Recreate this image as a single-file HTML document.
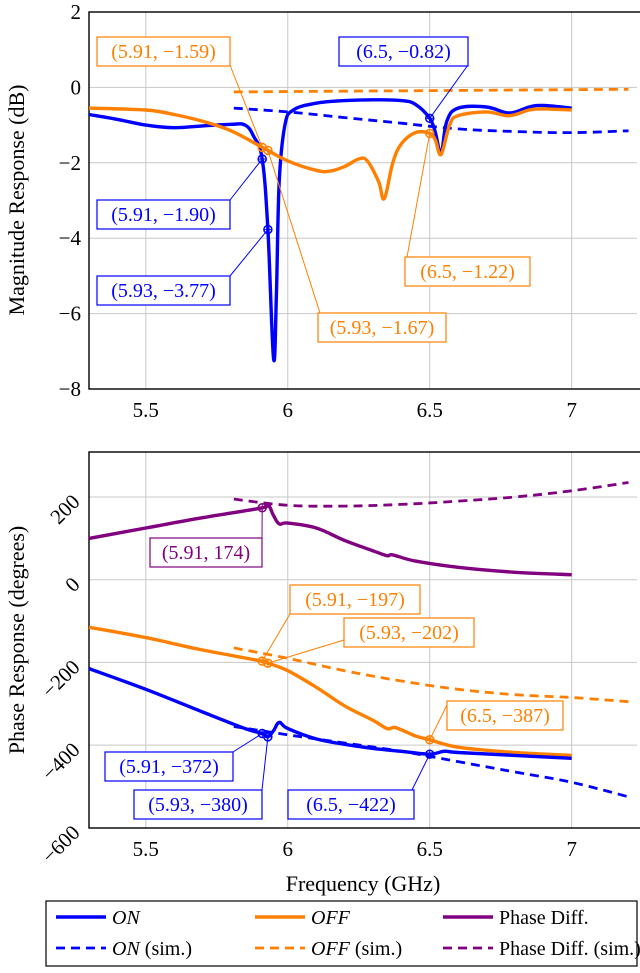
<!DOCTYPE html>
<html><head><meta charset="utf-8"><style>
html,body{margin:0;padding:0;background:#fff;}
svg{display:block;font-family:"Liberation Serif",serif;}
</style></head><body>
<svg id="c" width="640" height="973" viewBox="0 0 640 973"></svg>
<script>
const freqOn=[5.3,5.4,5.5,5.6,5.7,5.8,5.85,5.88,5.91,5.93,5.95,5.96,5.97,5.99,6.02,6.1,6.2,6.3,6.4,6.45,6.5,6.52,6.54,6.56,6.6,6.7,6.78,6.85,6.9,7.0];
const magOn=[-0.72,-0.85,-1.0,-1.07,-1.02,-0.98,-1.0,-1.3,-1.90,-3.77,-7.2,-5.5,-2.5,-1.0,-0.6,-0.42,-0.35,-0.33,-0.35,-0.45,-0.82,-1.2,-1.75,-0.9,-0.55,-0.52,-0.68,-0.52,-0.48,-0.55];
const freqOff=[5.3,5.5,5.6,5.7,5.8,5.91,5.93,6.0,6.1,6.15,6.2,6.25,6.28,6.32,6.34,6.37,6.4,6.45,6.5,6.52,6.54,6.57,6.6,6.7,6.78,6.85,6.9,7.0];
const magOff=[-0.55,-0.6,-0.72,-0.9,-1.15,-1.59,-1.67,-1.95,-2.2,-2.22,-2.1,-1.9,-1.95,-2.5,-2.95,-2.0,-1.5,-1.2,-1.22,-1.4,-1.78,-1.0,-0.75,-0.65,-0.75,-0.6,-0.57,-0.6];
const freqSim=[5.81,6.0,6.2,6.4,6.6,6.8,7.0,7.2];
const magOnSim=[-0.55,-0.65,-0.8,-0.95,-1.1,-1.17,-1.2,-1.15];
const magOffSim=[-0.12,-0.11,-0.1,-0.09,-0.08,-0.07,-0.06,-0.05];
const freqPhOn=[5.3,5.5,5.7,5.85,5.91,5.93,5.95,5.97,6.0,6.1,6.2,6.3,6.4,6.5,6.55,6.6,6.8,7.0];
const phOn=[-215,-265,-320,-360,-372,-380,-365,-345,-360,-385,-398,-408,-415,-422,-415,-418,-425,-432];
const freqPhOff=[5.3,5.5,5.7,5.91,5.93,6.0,6.1,6.2,6.3,6.35,6.38,6.45,6.5,6.6,6.8,7.0];
const phOff=[-115,-140,-170,-197,-202,-220,-260,-305,-340,-360,-358,-378,-387,-405,-418,-425];
const freqDiff=[5.3,5.5,5.7,5.91,5.93,5.95,5.97,6.0,6.1,6.2,6.3,6.35,6.37,6.45,6.6,6.8,7.0];
const phDiff=[100,125,150,174,183,155,135,137,125,95,70,58,60,45,30,18,12];
const phOnSim=[-355,-375,-395,-415,-440,-465,-490,-525];
const phOffSim=[-165,-190,-220,-245,-265,-278,-285,-295];
const phDiffSim=[195,180,178,182,190,200,215,235];
const xTicks=[5.5,6,6.5,7];
const magTicks=[2,0,-2,-4,-6,-8];
const phTicks=[200,0,-200,-400,-600];

const svg=document.getElementById('c');const NS='http://www.w3.org/2000/svg';
function el(t,a,p){const e=document.createElementNS(NS,t);for(const k in a)e.setAttribute(k,a[k]);(p||svg).appendChild(e);return e;}
const X0=89,X1=637;
const sx=f=>X0+(f-5.3)/(7.23-5.3)*(X1-X0);
const sy1=v=>12+(2-v)/10*(389-12);
const sy2=v=>497+(200-v)/200*82.7;
const BLUE='#0000ff',ORG='#ff8000',PUR='#800080';
function smooth(pts){
  let d='M'+pts[0][0].toFixed(1)+' '+pts[0][1].toFixed(1);
  const k=0.18;
  for(let i=0;i<pts.length-1;i++){
    const p0=pts[i-1]||pts[i],p1=pts[i],p2=pts[i+1],p3=pts[i+2]||p2;
    const c1=[p1[0]+(p2[0]-p0[0])*k,p1[1]+(p2[1]-p0[1])*k];
    const c2=[p2[0]-(p3[0]-p1[0])*k,p2[1]-(p3[1]-p1[1])*k];
    d+=` C${c1[0].toFixed(1)} ${c1[1].toFixed(1)} ${c2[0].toFixed(1)} ${c2[1].toFixed(1)} ${p2[0].toFixed(1)} ${p2[1].toFixed(1)}`;
  }
  return d;
}
function series(xs,ys,sy,col,dash,name){
  const d=smooth(xs.map((x,i)=>[sx(x),sy(ys[i])]));
  const p=el('path',{d:d,fill:'none',stroke:col,'stroke-width':dash?2.8:3.4,'stroke-dasharray':dash?'9 6':'none','stroke-linejoin':'round'});
  
  
}
function axes(top,bot,ticks,sy,rot,name){
  const g=el('g',{});
  
  
  xTicks.forEach(t=>{el('line',{x1:sx(t),x2:sx(t),y1:top,y2:bot,stroke:'#c8c8c8','stroke-width':1},g);
    const tx=el('text',{x:sx(t),y:bot+28,'text-anchor':'middle','font-size':21},g);tx.textContent=t;});
  ticks.forEach(t=>{const y=sy(t);
    if(y>top+1&&y<bot-1)el('line',{x1:X0,x2:X1,y1:y,y2:y,stroke:'#c8c8c8','stroke-width':1},g);
    const s=t<0?'\u2212'+(-t):''+t;
    if(rot){const tx=el('text',{x:0,y:0,'text-anchor':'end','font-size':21,transform:`translate(${X0-8},${y+6}) rotate(-45)`},g);tx.textContent=s;}
    else{const tx=el('text',{x:X0-8,y:y+7,'text-anchor':'end','font-size':21},g);tx.textContent=s;}
  });
  el('rect',{x:X0,y:top,width:X1-X0+5,height:bot-top,fill:'none',stroke:'#000','stroke-width':1.4},g);
}
function ann(txt,col,bx,by,bw,px,py,lx,ly,name){
  const g=el('g',{});
  
  
  el('line',{x1:lx,y1:ly,x2:px,y2:py,stroke:col,'stroke-width':1},g);
  el('circle',{cx:px,cy:py,r:4,fill:'none',stroke:col,'stroke-width':1.5},g);
  el('line',{x1:px-4,x2:px+4,y1:py,y2:py,stroke:col,'stroke-width':1},g);
  el('line',{x1:px,x2:px,y1:py-4,y2:py+4,stroke:col,'stroke-width':1},g);
  el('rect',{x:bx,y:by,width:bw,height:29,fill:'#fff',stroke:col,'stroke-width':1.2},g);
  const t=el('text',{x:bx+bw/2,y:by+21,'text-anchor':'middle','font-size':20,fill:col},g);t.textContent=txt;
}
axes(12,389,magTicks,sy1,false,'magnitude-axes');
axes(452,828,phTicks,sy2,true,'phase-axes');
series(freqSim,magOffSim,sy1,ORG,true,'off-sim-magnitude');
series(freqSim,magOnSim,sy1,BLUE,true,'on-sim-magnitude');
series(freqOn,magOn,sy1,BLUE,false,'on-magnitude');
series(freqOff,magOff,sy1,ORG,false,'off-magnitude');
series(freqSim,phDiffSim,sy2,PUR,true,'phase-diff-sim');
series(freqSim,phOffSim,sy2,ORG,true,'off-sim-phase');
series(freqSim,phOnSim,sy2,BLUE,true,'on-sim-phase');
series(freqDiff,phDiff,sy2,PUR,false,'phase-diff');
series(freqPhOff,phOff,sy2,ORG,false,'off-phase');
series(freqPhOn,phOn,sy2,BLUE,false,'on-phase');
ann('(5.91, \u22121.59)',ORG,97,37,133,sx(5.91),sy1(-1.59),230,65,'annotation-off-5-91');
ann('(6.5, \u22120.82)',BLUE,339,37,129,sx(6.5),sy1(-0.82),468,65,'annotation-on-6-5');
ann('(5.91, \u22121.90)',BLUE,97,200,133,sx(5.91),sy1(-1.90),230,200,'annotation-on-5-91');
ann('(5.93, \u22123.77)',BLUE,97,276,133,sx(5.93),sy1(-3.77),230,276,'annotation-on-5-93');
ann('(6.5, \u22121.22)',ORG,405,257,125,sx(6.5),sy1(-1.22),407,257,'annotation-off-6-5');
ann('(5.93, \u22121.67)',ORG,318,313,128,sx(5.93),sy1(-1.67),320,313,'annotation-off-5-93');
ann('(5.91, 174)',PUR,150,538,112,sx(5.91),sy2(174),262,538,'annotation-diff-5-91');
ann('(5.91, \u2212197)',ORG,290,585,130,sx(5.91),sy2(-197),290,614,'annotation-off-ph-5-91');
ann('(5.93, \u2212202)',ORG,344,618,130,sx(5.93),sy2(-202),344,640,'annotation-off-ph-5-93');
ann('(6.5, \u2212387)',ORG,447,701,116,sx(6.5),sy2(-387),449,701,'annotation-off-ph-6-5');
ann('(5.91, \u2212372)',BLUE,105,752,128,sx(5.91),sy2(-372),233,752,'annotation-on-ph-5-91');
ann('(5.93, \u2212380)',BLUE,134,790,128,sx(5.93),sy2(-380),262,790,'annotation-on-ph-5-93');
ann('(6.5, \u2212422)',BLUE,288,790,126,sx(6.5),sy2(-422),412,790,'annotation-on-ph-6-5');
let t=el('text',{x:0,y:0,'text-anchor':'middle','font-size':22,transform:'translate(24,200) rotate(-90)'});t.textContent='Magnitude Response (dB)';

t=el('text',{x:0,y:0,'text-anchor':'middle','font-size':22,transform:'translate(24,640) rotate(-90)'});t.textContent='Phase Response (degrees)';

t=el('text',{x:363,y:891,'text-anchor':'middle','font-size':22});t.textContent='Frequency (GHz)';

const lg=el('g',{});


el('rect',{x:46,y:901,width:591,height:65,fill:'#fff',stroke:'#000','stroke-width':1.2},lg);
const items=[[56,917,BLUE,false,'<i>ON</i>'],[255,917,ORG,false,'<i>OFF</i>'],[443,917,PUR,false,'Phase Diff.'],
[56,948,BLUE,true,'<i>ON</i> (sim.)'],[255,948,ORG,true,'<i>OFF</i> (sim.)'],[443,948,PUR,true,'Phase Diff. (sim.)']];
items.forEach(([x,y,c,d,lab])=>{
  const g=el('g',{},lg);
  
  
  el('line',{x1:x,x2:x+50,y1:y,y2:y,stroke:c,'stroke-width':d?2.8:3.4,'stroke-dasharray':d?'9 6':'none'},g);
  const tx=el('text',{x:x+56,y:y+7,'font-size':20},g);
  tx.innerHTML=lab.replace(/<i>(.*?)<\/i>/,'<tspan font-style="italic">$1</tspan>');
});
</script>
</body></html>
